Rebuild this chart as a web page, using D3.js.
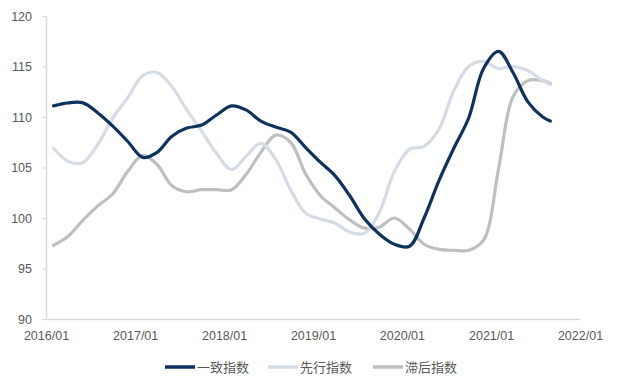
<!DOCTYPE html>
<html>
<head>
<meta charset="utf-8">
<script src="https://cdn.jsdelivr.net/npm/d3@7/dist/d3.min.js"></script>
<style>
  body { margin: 0; background: #fff; }
  svg { display: block; }
  .tick text { fill: #595959; }
</style>
</head>
<body>
<div id="chart"></div>
<script>
// month points (every 2 months, last one 2021/09)
const months = ["2016-02","2016-04","2016-06","2016-08","2016-10","2016-12",
  "2017-02","2017-04","2017-06","2017-08","2017-10","2017-12",
  "2018-02","2018-04","2018-06","2018-08","2018-10","2018-12",
  "2019-02","2019-04","2019-06","2019-08","2019-10","2019-12",
  "2020-02","2020-04","2020-06","2020-08","2020-10","2020-12",
  "2021-02","2021-04","2021-06","2021-08","2021-09"];

const coincident = [111.1,111.4,111.4,110.4,109.1,107.6,
  106.0,106.5,108.1,108.9,109.2,110.2,
  111.1,110.7,109.6,109.0,108.5,107.0,
  105.5,104.2,102.2,99.9,98.4,97.4,
  97.2,100.0,103.7,106.9,109.9,114.8,
  116.5,114.4,111.5,110.0,109.6];

const leading = [106.9,105.6,105.5,107.3,109.9,111.9,
  114.1,114.4,113.0,110.7,108.6,106.4,
  104.8,106.1,107.4,105.8,102.8,100.5,
  99.9,99.5,98.6,98.5,100.6,104.6,
  106.8,107.1,108.8,112.6,115.0,115.5,
  114.8,115.0,114.6,113.6,113.2];

const lagging = [97.3,98.2,99.8,101.2,102.4,104.6,
  106.2,105.3,103.2,102.6,102.8,102.8,
  102.8,104.3,106.5,108.2,107.5,104.4,
  102.2,101.0,99.8,99.0,99.1,100.0,
  98.9,97.4,96.9,96.8,96.8,97.8,
  104.9,112.0,113.6,113.6,113.3];

const seriesNames = ["一致指数", "先行指数", "滞后指数"];
const seriesColors = ["#0e325e", "#d6dce5", "#bfbfbf"];
const xTicks = ["2016/01","2017/01","2018/01","2019/01","2020/01","2021/01","2022/01"];
const yTicks = [90, 95, 100, 105, 110, 115, 120];

const width = 620, height = 390;
const margin = {left: 46, right: 40, top: 16, bottom: 71};

const parseMonth = d3.timeParse("%Y-%m");
const parseTick = d3.timeParse("%Y/%m");

const svg = d3.select("#chart").append("svg")
  .attr("width", width)
  .attr("height", height);

const x = d3.scaleTime()
  .domain([parseTick(xTicks[0]), parseTick(xTicks[xTicks.length - 1])])
  .range([margin.left, width - margin.right]);

const y = d3.scaleLinear()
  .domain([90, 120])
  .range([height - margin.bottom, margin.top]);

// axes
const xAxis = svg.append("g")
  .attr("transform", `translate(0,${height - margin.bottom})`)
  .call(d3.axisBottom(x)
    .tickValues(xTicks.map(parseTick))
    .tickFormat(d3.timeFormat("%Y/%m"))
    .tickSize(0)
    .tickPadding(12));
xAxis.select(".domain").attr("stroke", "#d9d9d9").attr("stroke-width", 1.5);
xAxis.selectAll("text")
  .attr("font-family", "Liberation Sans, Arial, sans-serif")
  .attr("font-size", "12.5px");

const yAxis = svg.append("g")
  .attr("transform", `translate(${margin.left},0)`)
  .call(d3.axisLeft(y)
    .tickValues(yTicks)
    .tickSize(4)
    .tickSizeOuter(0)
    .tickPadding(10));
yAxis.select(".domain").attr("stroke", "#d9d9d9").attr("stroke-width", 1.5);
yAxis.selectAll(".tick line").attr("stroke", "#d9d9d9");
yAxis.selectAll("text")
  .attr("font-family", "Liberation Sans, Arial, sans-serif")
  .attr("font-size", "12.5px");

// lines
const dates = months.map(parseMonth);
const allSeries = [coincident, leading, lagging];

const line = d3.line()
  .x((d, i) => x(dates[i]))
  .y(d => y(d))
  .curve(d3.curveCatmullRom.alpha(0.5));

// draw order: lagging, leading underneath, coincident on top
[2, 1, 0].forEach(k => {
  svg.append("path")
    .datum(allSeries[k])
    .attr("fill", "none")
    .attr("stroke", seriesColors[k])
    .attr("stroke-width", 3.2)
    .attr("stroke-linecap", "round")
    .attr("d", line);
});

// legend
const legendX = [165, 268, 373];
const legend = svg.append("g").attr("transform", "translate(0,367)");
seriesNames.forEach((name, i) => {
  legend.append("line")
    .attr("x1", legendX[i]).attr("x2", legendX[i] + 30)
    .attr("y1", 0).attr("y2", 0)
    .attr("stroke", seriesColors[i])
    .attr("stroke-width", 3.5);
  legend.append("text")
    .attr("x", legendX[i] + 32)
    .attr("y", 0)
    .attr("dy", "0.35em")
    .attr("fill", "#595959")
    .attr("font-family", "Noto Sans CJK SC, sans-serif")
    .attr("font-size", "13px")
    .text(name);
});
</script>
</body>
</html>
